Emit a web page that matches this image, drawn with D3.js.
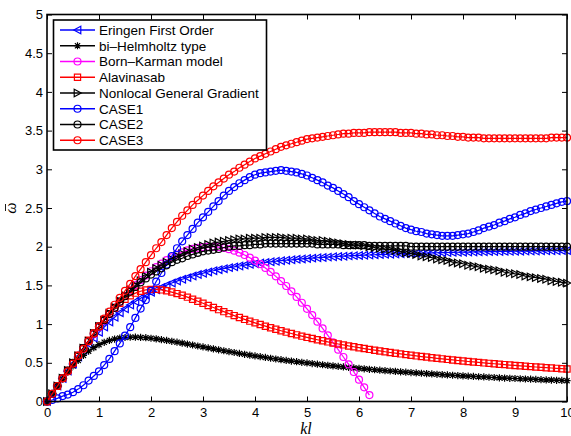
<!DOCTYPE html>
<html>
<head>
<meta charset="utf-8">
<script src="https://cdn.jsdelivr.net/npm/d3@7"></script>
<style>
  body { margin: 0; background: #fff; }
  text { font-family: "Liberation Sans", Arial, Helvetica, sans-serif; }
</style>
</head>
<body>
<svg id="chart" width="571" height="436"></svg>
<script>
// kl grid (markers every 0.1)
var kl = [
  0, 0.1, 0.2, 0.3, 0.4, 0.5, 0.6, 0.7, 0.8, 0.9,
  1, 1.1, 1.2, 1.3, 1.4, 1.5, 1.6, 1.7, 1.8, 1.9,
  2, 2.1, 2.2, 2.3, 2.4, 2.5, 2.6, 2.7, 2.8, 2.9,
  3, 3.1, 3.2, 3.3, 3.4, 3.5, 3.6, 3.7, 3.8, 3.9,
  4, 4.1, 4.2, 4.3, 4.4, 4.5, 4.6, 4.7, 4.8, 4.9,
  5, 5.1, 5.2, 5.3, 5.4, 5.5, 5.6, 5.7, 5.8, 5.9,
  6, 6.1, 6.2, 6.3, 6.4, 6.5, 6.6, 6.7, 6.8, 6.9,
  7, 7.1, 7.2, 7.3, 7.4, 7.5, 7.6, 7.7, 7.8, 7.9,
  8, 8.1, 8.2, 8.3, 8.4, 8.5, 8.6, 8.7, 8.8, 8.9,
  9, 9.1, 9.2, 9.3, 9.4, 9.5, 9.6, 9.7, 9.8, 9.9,
  10
];

var eringen = [
  0, 0.100, 0.199, 0.297, 0.392, 0.485, 0.574, 0.660, 0.742, 0.820,
  0.893, 0.962, 1.027, 1.088, 1.145, 1.197, 1.246, 1.292, 1.334, 1.374,
  1.410, 1.444, 1.475, 1.504, 1.531, 1.556, 1.579, 1.601, 1.621, 1.640,
  1.657, 1.674, 1.689, 1.703, 1.716, 1.729, 1.740, 1.751, 1.762, 1.771,
  1.780, 1.789, 1.797, 1.805, 1.812, 1.819, 1.825, 1.831, 1.837, 1.842,
  1.847, 1.852, 1.857, 1.861, 1.866, 1.870, 1.874, 1.877, 1.881, 1.884,
  1.887, 1.890, 1.893, 1.896, 1.898, 1.901, 1.903, 1.906, 1.908, 1.910,
  1.912, 1.914, 1.916, 1.918, 1.920, 1.922, 1.923, 1.925, 1.926, 1.928,
  1.929, 1.931, 1.932, 1.933, 1.935, 1.936, 1.937, 1.938, 1.939, 1.940,
  1.941, 1.942, 1.943, 1.944, 1.945, 1.946, 1.947, 1.948, 1.948, 1.949,
  1.950
];

var biHelmholtz = [
  0, 0.100, 0.197, 0.291, 0.378, 0.459, 0.531, 0.595, 0.650, 0.696,
  0.734, 0.765, 0.789, 0.807, 0.819, 0.827, 0.830, 0.831, 0.828, 0.824,
  0.817, 0.809, 0.799, 0.789, 0.778, 0.766, 0.754, 0.742, 0.730, 0.717,
  0.705, 0.692, 0.680, 0.668, 0.656, 0.644, 0.633, 0.621, 0.610, 0.599,
  0.589, 0.579, 0.569, 0.559, 0.549, 0.540, 0.531, 0.522, 0.514, 0.506,
  0.498, 0.490, 0.482, 0.475, 0.467, 0.460, 0.453, 0.447, 0.440, 0.434,
  0.428, 0.422, 0.416, 0.410, 0.405, 0.399, 0.394, 0.389, 0.384, 0.379,
  0.374, 0.369, 0.365, 0.360, 0.356, 0.351, 0.347, 0.343, 0.339, 0.335,
  0.331, 0.327, 0.324, 0.320, 0.317, 0.313, 0.310, 0.306, 0.303, 0.300,
  0.297, 0.294, 0.291, 0.288, 0.285, 0.282, 0.279, 0.277, 0.274, 0.272,
  0.269
];

// Born-Karman stops at kl ~ 6.2
var bornKarman = [
  0, 0.100, 0.200, 0.299, 0.397, 0.495, 0.591, 0.686, 0.779, 0.870,
  0.959, 1.045, 1.129, 1.210, 1.288, 1.363, 1.435, 1.503, 1.567, 1.627,
  1.683, 1.735, 1.782, 1.826, 1.864, 1.898, 1.927, 1.952, 1.971, 1.985,
  1.995, 2.000, 1.999, 1.994, 1.983, 1.968, 1.948, 1.923, 1.893, 1.858,
  1.819, 1.775, 1.726, 1.674, 1.617, 1.556, 1.492, 1.423, 1.351, 1.276,
  1.197, 1.116, 1.031, 0.944, 0.855, 0.763, 0.670, 0.575, 0.479, 0.381,
  0.282, 0.183, 0.083
];

var alavinasab = [
  0, 0.100, 0.200, 0.300, 0.400, 0.499, 0.598, 0.695, 0.791, 0.884,
  0.973, 1.057, 1.135, 1.206, 1.269, 1.322, 1.366, 1.400, 1.425, 1.441,
  1.448, 1.448, 1.442, 1.430, 1.414, 1.394, 1.372, 1.348, 1.322, 1.296,
  1.269, 1.241, 1.214, 1.187, 1.161, 1.135, 1.110, 1.085, 1.061, 1.038,
  1.016, 0.994, 0.973, 0.952, 0.933, 0.914, 0.896, 0.878, 0.861, 0.844,
  0.828, 0.813, 0.798, 0.784, 0.770, 0.756, 0.743, 0.731, 0.718, 0.707,
  0.695, 0.684, 0.673, 0.663, 0.653, 0.643, 0.633, 0.624, 0.615, 0.606,
  0.598, 0.589, 0.581, 0.574, 0.566, 0.558, 0.551, 0.544, 0.537, 0.530,
  0.524, 0.517, 0.511, 0.505, 0.499, 0.493, 0.488, 0.482, 0.477, 0.471,
  0.466, 0.461, 0.456, 0.451, 0.446, 0.442, 0.437, 0.433, 0.428, 0.424,
  0.420
];

var nonlocalGG = [
  0, 0.10, 0.20, 0.30, 0.40, 0.50, 0.59, 0.69, 0.78, 0.88,
  0.97, 1.05, 1.14, 1.22, 1.30, 1.37, 1.44, 1.50, 1.56, 1.62,
  1.67, 1.72, 1.76, 1.80, 1.84, 1.88, 1.91, 1.94, 1.97, 1.99,
  2.01, 2.03, 2.05, 2.06, 2.07, 2.08, 2.09, 2.10, 2.10, 2.11,
  2.11, 2.11, 2.12, 2.12, 2.12, 2.12, 2.11, 2.11, 2.11, 2.10,
  2.10, 2.09, 2.08, 2.08, 2.07, 2.06, 2.05, 2.04, 2.03, 2.02,
  2.02, 2.01, 2.00, 1.99, 1.98, 1.97, 1.96, 1.95, 1.94, 1.92,
  1.91, 1.90, 1.88, 1.87, 1.86, 1.84, 1.83, 1.82, 1.80, 1.79,
  1.78, 1.76, 1.75, 1.74, 1.72, 1.71, 1.70, 1.69, 1.67, 1.66,
  1.65, 1.64, 1.62, 1.61, 1.60, 1.59, 1.58, 1.56, 1.55, 1.54,
  1.53
];

var case1 = [
  0, 0.02, 0.04, 0.07, 0.09, 0.12, 0.16, 0.21, 0.27, 0.33,
  0.39, 0.47, 0.55, 0.65, 0.75, 0.85, 0.96, 1.08, 1.20, 1.31,
  1.43, 1.55, 1.66, 1.77, 1.88, 1.98, 2.07, 2.15, 2.23, 2.31,
  2.38, 2.45, 2.52, 2.59, 2.66, 2.72, 2.77, 2.82, 2.86, 2.90,
  2.93, 2.95, 2.96, 2.97, 2.98, 2.99, 2.98, 2.97, 2.96, 2.94,
  2.92, 2.89, 2.86, 2.83, 2.79, 2.76, 2.72, 2.68, 2.64, 2.59,
  2.55, 2.51, 2.47, 2.43, 2.39, 2.36, 2.33, 2.30, 2.27, 2.24,
  2.22, 2.20, 2.19, 2.17, 2.16, 2.15, 2.14, 2.14, 2.14, 2.15,
  2.16, 2.17, 2.19, 2.21, 2.24, 2.26, 2.28, 2.31, 2.33, 2.36,
  2.38, 2.41, 2.43, 2.46, 2.48, 2.50, 2.52, 2.54, 2.56, 2.58,
  2.59
];

var case2 = [
  0, 0.10, 0.20, 0.30, 0.40, 0.50, 0.59, 0.69, 0.78, 0.88,
  0.97, 1.05, 1.13, 1.21, 1.29, 1.36, 1.42, 1.48, 1.54, 1.59,
  1.64, 1.68, 1.72, 1.76, 1.80, 1.83, 1.85, 1.88, 1.90, 1.92,
  1.94, 1.95, 1.96, 1.97, 1.99, 2.00, 2.01, 2.01, 2.02, 2.02,
  2.03, 2.03, 2.04, 2.04, 2.04, 2.04, 2.04, 2.04, 2.04, 2.04,
  2.04, 2.04, 2.03, 2.03, 2.03, 2.03, 2.03, 2.02, 2.02, 2.02,
  2.02, 2.02, 2.01, 2.01, 2.01, 2.01, 2.01, 2.01, 2.01, 2.01,
  2.00, 2.00, 2.00, 2.00, 2.00, 2.00, 2.00, 2.00, 2.00, 2.00,
  2.00, 2.00, 2.00, 2.00, 2.00, 2.00, 2.00, 2.00, 2.00, 2.00,
  2.00, 2.00, 2.00, 2.00, 2.00, 2.00, 2.00, 2.00, 2.00, 2.00,
  2.00
];

var case3 = [
  0, 0.10, 0.20, 0.30, 0.39, 0.49, 0.59, 0.68, 0.78, 0.88,
  0.97, 1.07, 1.16, 1.25, 1.34, 1.43, 1.52, 1.62, 1.71, 1.80,
  1.89, 1.98, 2.06, 2.15, 2.24, 2.32, 2.40, 2.47, 2.54, 2.60,
  2.66, 2.72, 2.78, 2.83, 2.88, 2.93, 2.97, 3.02, 3.06, 3.10,
  3.14, 3.17, 3.20, 3.23, 3.26, 3.29, 3.31, 3.33, 3.35, 3.37,
  3.39, 3.40, 3.41, 3.42, 3.43, 3.44, 3.45, 3.46, 3.46, 3.47,
  3.47, 3.47, 3.48, 3.48, 3.48, 3.48, 3.48, 3.48, 3.47, 3.47,
  3.47, 3.46, 3.46, 3.45, 3.45, 3.44, 3.44, 3.43, 3.43, 3.42,
  3.42, 3.41, 3.41, 3.41, 3.40, 3.40, 3.40, 3.40, 3.40, 3.40,
  3.40, 3.40, 3.40, 3.40, 3.40, 3.40, 3.40, 3.41, 3.41, 3.41,
  3.41
];

var seriesNames = ["Eringen First Order", "bi\u2013Helmholtz type", "Born\u2013Karman model", "Alavinasab",
                   "Nonlocal General Gradient", "CASE1", "CASE2", "CASE3"];
var seriesValues = [eringen, biHelmholtz, bornKarman, alavinasab, nonlocalGG, case1, case2, case3];
var seriesColors = ["#0000ff", "#000000", "#ff00ff", "#ff0000", "#000000", "#0000ff", "#000000", "#ff0000"];
var seriesMarkers = ["left", "star", "circle", "square", "right", "circle", "circle", "circle"];

var xTicks = [0, 1, 2, 3, 4, 5, 6, 7, 8, 9, 10];
var yTicks = [0, 0.5, 1, 1.5, 2, 2.5, 3, 3.5, 4, 4.5, 5];

var svg = d3.select("#chart");

var x = d3.scaleLinear().domain([0, 10]).range([47, 567]);
var y = d3.scaleLinear().domain([0, 5]).range([401.5, 14.5]);

// marker shapes, MATLAB-like
function markerPath(type) {
  if (type == "circle") {
    var r = 3.5;
    return "M" + (-r) + ",0A" + r + "," + r + " 0 1,0 " + r + ",0A" + r + "," + r + " 0 1,0 " + (-r) + ",0Z";
  } else if (type == "square") {
    return "M-3.1,-3.1H3.1V3.1H-3.1Z";
  } else if (type == "left") {
    return "M-3.7,0L3.3,-3.7L3.3,3.7Z";
  } else if (type == "right") {
    return "M3.7,0L-3.3,-3.7L-3.3,3.7Z";
  } else {
    return "M-3.6,0H3.6M0,-3.6V3.6M-2.6,-2.6L2.6,2.6M-2.6,2.6L2.6,-2.6";
  }
}

// axes: inward ticks on all four sides
var gx = svg.append("g")
  .attr("transform", "translate(0," + y(0) + ")")
  .call(d3.axisBottom(x).tickValues(xTicks).tickSizeInner(-5).tickSizeOuter(0).tickPadding(6).tickFormat(d3.format("~g")));
var gy = svg.append("g")
  .attr("transform", "translate(" + x(0) + ",0)")
  .call(d3.axisLeft(y).tickValues(yTicks).tickSizeInner(-5).tickSizeOuter(0).tickPadding(4).tickFormat(d3.format("~g")));
var gt = svg.append("g")
  .attr("transform", "translate(0," + y(5) + ")")
  .call(d3.axisTop(x).tickValues(xTicks).tickSizeInner(-5).tickSizeOuter(0).tickFormat(""));
var gr = svg.append("g")
  .attr("transform", "translate(" + x(10) + ",0)")
  .call(d3.axisRight(y).tickValues(yTicks).tickSizeInner(-5).tickSizeOuter(0).tickFormat(""));

[gx, gy, gt, gr].forEach(function(g) {
  g.select(".domain").remove();
  g.selectAll(".tick line").attr("stroke", "#000").attr("stroke-width", 1);
  g.selectAll("text").attr("fill", "#000").style("font-size", "13px")
    .style("font-family", "'Liberation Sans', Arial, Helvetica, sans-serif");
});

// curves
var line = d3.line()
  .x(function(d) { return x(d[0]); })
  .y(function(d) { return y(d[1]); });

seriesValues.forEach(function(vals, i) {
  var pts = vals.map(function(v, j) { return [kl[j], v]; });
  var g = svg.append("g").attr("class", "series");
  g.append("path")
    .attr("d", line(pts))
    .attr("fill", "none")
    .attr("stroke", seriesColors[i])
    .attr("stroke-width", 1.2);
  g.selectAll("path.mk")
    .data(pts)
    .enter()
    .append("path")
    .attr("class", "mk")
    .attr("transform", function(d) { return "translate(" + x(d[0]) + "," + y(d[1]) + ")"; })
    .attr("d", markerPath(seriesMarkers[i]))
    .attr("fill", "none")
    .attr("stroke", seriesColors[i])
    .attr("stroke-width", 1.2);
});

// box
svg.append("rect")
  .attr("x", x(0)).attr("y", y(5))
  .attr("width", x(10) - x(0)).attr("height", y(0) - y(5))
  .attr("fill", "none").attr("stroke", "#000").attr("stroke-width", 1.6);

// labels
svg.append("text")
  .attr("x", 306).attr("y", 434)
  .attr("text-anchor", "middle")
  .style("font-family", "'Liberation Serif', 'DejaVu Serif', serif")
  .style("font-style", "italic")
  .style("font-size", "16px")
  .text("kl");

// omega with a bar, rotated like a MATLAB ylabel
var ylab = svg.append("g").attr("transform", "translate(16,208) rotate(-90)");
ylab.append("text")
  .attr("x", 0).attr("y", 0)
  .attr("text-anchor", "middle")
  .style("font-family", "'Liberation Serif', 'DejaVu Serif', serif")
  .style("font-style", "italic")
  .style("font-size", "16px")
  .text("\u03c9");
ylab.append("line")
  .attr("x1", -3).attr("x2", 4).attr("y1", -10.5).attr("y2", -10.5)
  .attr("stroke", "#000").attr("stroke-width", 0.9);

// legend
var legend = svg.append("g");
legend.append("rect")
  .attr("x", 53.5).attr("y", 20)
  .attr("width", 213).attr("height", 130)
  .attr("fill", "#fff").attr("stroke", "#000").attr("stroke-width", 1.6);

seriesNames.forEach(function(name, i) {
  var ly = 30 + i * 15.75;
  legend.append("line")
    .attr("x1", 60).attr("x2", 95).attr("y1", ly).attr("y2", ly)
    .attr("stroke", seriesColors[i]).attr("stroke-width", 1.5);
  legend.append("path")
    .attr("transform", "translate(77.5," + ly + ")")
    .attr("d", markerPath(seriesMarkers[i]))
    .attr("fill", "none")
    .attr("stroke", seriesColors[i])
    .attr("stroke-width", 1.2);
  legend.append("text")
    .attr("x", 99).attr("y", ly).attr("dy", "0.36em")
    .style("font-size", "13.5px")
    .attr("fill", "#000")
    .text(name);
});
</script>
</body>
</html>
